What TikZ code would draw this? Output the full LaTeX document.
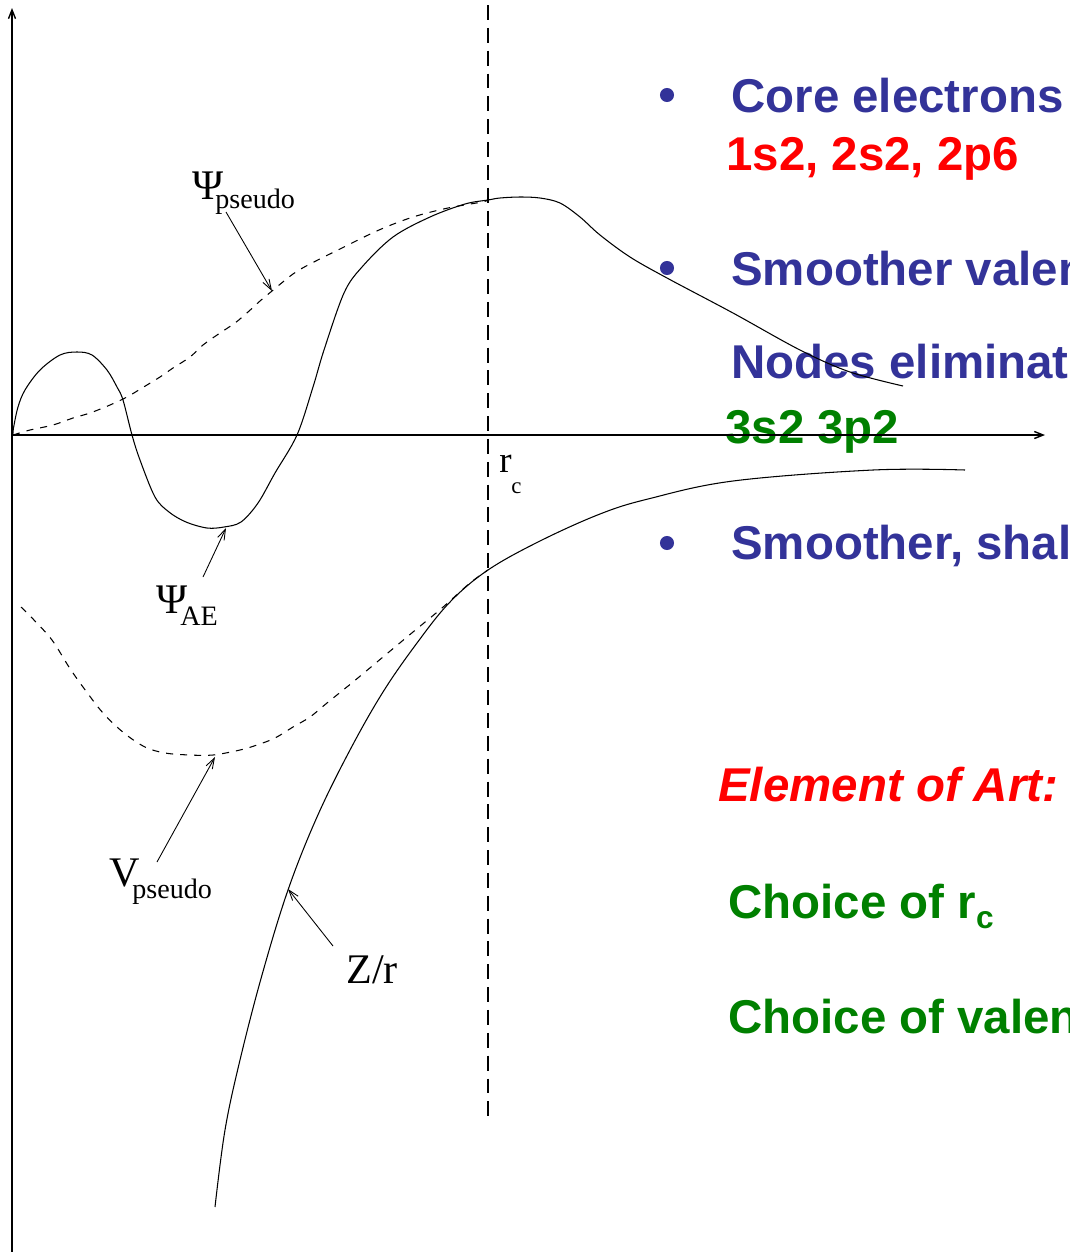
\documentclass[tikz,border=0pt]{standalone}
\usepackage{fontspec}
\setmainfont{Liberation Serif}
\newfontfamily\arialfont{Liberation Sans}
\usetikzlibrary{arrows.meta}
\definecolor{pblue}{RGB}{51,51,153}
\definecolor{pred}{RGB}{255,0,0}
\definecolor{pgreen}{RGB}{0,128,0}
\tikzset{
 curve/.style={line width=0.6pt, black},
 dcurve/.style={line width=0.6pt, dash pattern=on 4pt off 4pt},
 rcline/.style={line width=0.7pt, dash pattern=on 8.5pt off 4.5pt},
 axisline/.style={line width=0.8pt, -{Straight Barb[length=5pt,width=4pt]}},
 lbl/.style={inner sep=0, anchor=base west},
 ptr/.style={line width=0.5pt, -{Straight Barb[length=6pt,width=4pt]}},
 bigtxt/.style={lbl, font=\arialfont\bfseries\fontsize{27}{27}\selectfont},
 bulletdot/.style={circle, fill=pblue, inner sep=0, minimum size=8pt},
 serif/.style={lbl, font=\fontsize{24}{24}\selectfont},
 subtxt/.style={lbl, font=\fontsize{16}{16}\selectfont},
}
\begin{document}
\begin{tikzpicture}[x=0.02cm,y=-0.02cm]
\useasboundingbox (0,0) rectangle (1070,1252);
\clip (0,0) rectangle (1070,1252);

% ---- right-hand text ----
\node[bulletdot] (b1) at (667,95) {};
\node[bigtxt, text=pblue] (t1) at (731,112) {Core electrons};
\node[bigtxt, text=pred] (t2) at (726,170) {1s2, 2s2, 2p6};
\node[bulletdot] (b2) at (667,268) {};
\node[bigtxt, text=pblue] (t3) at (731,285) {Smoother valen};
\node[bigtxt, text=pblue] (t4) at (731,378) {Nodes eliminat};
\node[bigtxt, text=pgreen] (t5) at (725,443) {3s2 3p2};
\node[bulletdot] (b3) at (667,543) {};
\node[bigtxt, text=pblue] (t6) at (731,559) {Smoother, shal};
\node[bigtxt, text=pred, font=\arialfont\bfseries\itshape\fontsize{27}{27}\selectfont] (t7) at (718,801) {Element of Art:};
\node[bigtxt, text=pgreen] (t8) at (728,918) {Choice of r\raisebox{-5.7pt}{\fontsize{18}{18}\selectfont c}};
\node[bigtxt, text=pgreen] (t9) at (728,1033) {Choice of valen};

% ---- axes ----
\coordinate (O) at (12,435);
\coordinate (ybot) at (12,1252);
\coordinate (ytop) at (12,8);
\coordinate (xend) at (1045,435);
\draw[axisline] (ybot) -- (ytop);
\draw[axisline] (O) -- (xend);

% ---- r_c line ----
\coordinate (rctop) at (488,5);
\coordinate (rcbot) at (488,1120);
\draw[rcline] (rctop) -- (rcbot);
\node[lbl, font=\fontsize{21}{21}\selectfont] (rlab) at (499,472) {r};
\node[lbl, font=\fontsize{13}{13}\selectfont] (clab) at (511,493) {c};

% ---- Psi_AE ----
\draw[curve] plot[smooth, tension=0.55] coordinates {
 (13,435) (13.5,428) (18,407) (25,390) (40,370) (60,355) (77,352) (92,355)
 (107,370) (117,387) (123,400) (132,435) (140,460) (155,497) (169,512) (186,522)
 (207,528) (224,527) (241,522) (258,503) (275,473) (297,435) (313,387)
 (324,350) (344,293) (362,267) (393,237) (430,217) (465,204) (488,200) (500,198)
 (520,197) (540,198) (560,203) (580,217) (600,235) (630,257) (667,278) (733,313)
 (800,350) (850,372) (903,386)};

% ---- Psi_pseudo ----
\draw[dcurve] plot[smooth, tension=0.55] coordinates {
 (13,435) (30,430) (53,425) (73,418) (90,413) (110,405) (127,397) (142,388)
 (160,377) (173,368) (190,357) (203,345) (220,333) (235,323) (248,312) (260,301)
 (272,291) (293,274) (310,264) (344,247) (379,230) (413,217) (448,208) (482,202)
 (488,200)};

% ---- V_pseudo ----
\draw[dcurve] plot[smooth, tension=0.55] coordinates {
 (21,607) (34,620) (52,640) (69,667) (83,687) (103,713) (124,733) (145,747)
 (165,753) (190,755) (213,755) (240,750) (257,745) (275,738) (293,727) (310,717)
 (327,703) (353,682) (383,657) (413,632) (442,608) (470,583) (488,570)};

% ---- Z/r ----
\draw[curve] plot[smooth, tension=0.6] coordinates {
 (215,1207) (225,1130) (240,1060) (262,975) (288,890) (317,817) (350,750)
 (383,692) (417,643) (450,602) (488,570) (540,541) (600,514) (648,499)
 (733,481) (873,470) (965,470)};

% ---- labels ----
\node[serif] (psiP) at (192,199) {Ψ};
\node[subtxt] (psiPsub) at (215,208) {pseudo};
\node[serif] (psiA) at (156,613) {Ψ};
\node[subtxt] (psiAsub) at (180,625) {AE};
\node[serif] (vP) at (109,886) {V};
\node[subtxt] (vPsub) at (132,898) {pseudo};
\node[serif] (zr) at (346,983) {Z/r};

% ---- pointers ----
\coordinate (pPtail) at (226,212);
\coordinate (pPhead) at (272,291);
\coordinate (pAtail) at (203,577);
\coordinate (pAhead) at (226,528);
\coordinate (vPtail) at (157,862);
\coordinate (vPhead) at (215,757);
\coordinate (zrtail) at (333,946);
\coordinate (zrhead) at (288,889);
\draw[ptr] (pPtail) -- (pPhead);
\draw[ptr] (pAtail) -- (pAhead);
\draw[ptr] (vPtail) -- (vPhead);
\draw[ptr] (zrtail) -- (zrhead);
\end{tikzpicture}
\end{document}
